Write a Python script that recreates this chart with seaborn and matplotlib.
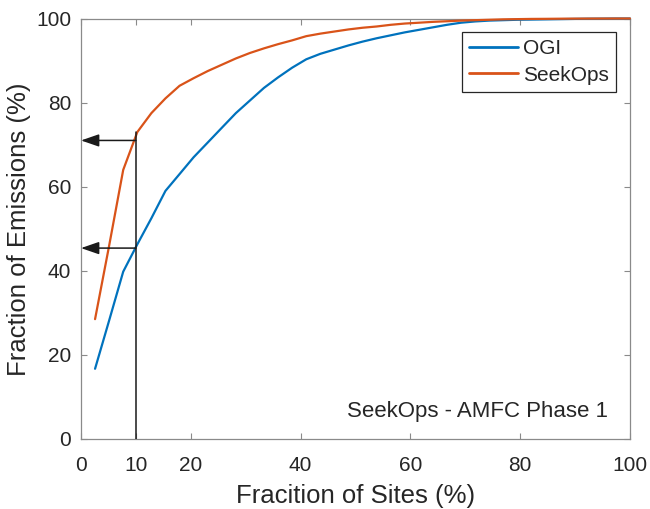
import numpy as np
import pandas as pd
import matplotlib
matplotlib.use("Agg")
import matplotlib.pyplot as plt
import seaborn as sns

# Cumulative share of emissions vs. share of sites (sites ranked by emission)
site_frac = [2.56, 5.13, 7.69, 10.26, 12.82, 15.38, 17.95, 20.51, 23.08, 25.64,
             28.21, 30.77, 33.33, 35.90, 38.46, 41.03, 43.59, 46.15, 48.72, 51.28,
             53.85, 56.41, 58.97, 61.54, 64.10, 66.67, 69.23, 71.79, 74.36, 76.92,
             79.49, 82.05, 84.62, 87.18, 89.74, 92.31, 94.87, 97.44, 100.0]

ogi = [16.7, 28.2, 39.8, 46.3, 52.5, 59.0, 63.0, 67.0, 70.5, 74.0,
       77.5, 80.5, 83.5, 86.0, 88.3, 90.3, 91.6, 92.6, 93.6, 94.5,
       95.3, 96.0, 96.7, 97.3, 97.9, 98.5, 99.0, 99.3, 99.5, 99.6,
       99.7, 99.75, 99.8, 99.85, 99.9, 99.95, 99.97, 100.0, 100.0]

seekops = [28.5, 46.0, 64.0, 73.0, 77.5, 81.0, 84.0, 85.8, 87.5, 89.0,
           90.5, 91.8, 92.9, 93.9, 94.8, 95.8, 96.4, 96.9, 97.4, 97.8,
           98.1, 98.5, 98.8, 99.0, 99.2, 99.35, 99.5, 99.6, 99.7, 99.8,
           99.85, 99.9, 99.92, 99.95, 99.97, 99.98, 99.99, 100.0, 100.0]

series_names = ["OGI", "SeekOps"]
series_colors = ["#0072BD", "#D95319"]

# Guide lines at 10 % of sites
marker_site = 10
marker_top = 73
arrow_levels = [71, 45.4]

x_ticks = [0, 10, 20, 40, 60, 80, 100]
y_ticks = [0, 20, 40, 60, 80, 100]

df = pd.DataFrame({
    "site": site_frac * 2,
    "emis": ogi + seekops,
    "method": ["OGI"] * len(ogi) + ["SeekOps"] * len(seekops),
})

sns.set_style("ticks")
plt.rcParams["font.family"] = ["Liberation Sans", "DejaVu Sans"]

txt = "#262626"
spine = "#8a8a8a"

fig = plt.figure(figsize=(6.5, 5.09), dpi=100)
ax = fig.add_axes([81 / 650, 1 - 439 / 509, (630 - 81) / 650, (439 - 18.5) / 509])

sns.lineplot(data=df, x="site", y="emis", hue="method", hue_order=series_names,
             palette=series_colors, linewidth=1.6, ax=ax, legend=True)
for ln in ax.get_lines():
    ln.set_clip_on(False)
    ln.set_zorder(3)

# vertical marker and arrows pointing to the y axis
ax.plot([marker_site, marker_site], [0, marker_top], color="#1a1a1a", lw=1.1, zorder=3)
for lvl in arrow_levels:
    ax.annotate("", xy=(0, lvl), xytext=(marker_site, lvl),
                arrowprops=dict(arrowstyle="-|>,head_length=1.1,head_width=0.38",
                                color="#1a1a1a", lw=1.1, shrinkA=0, shrinkB=0,
                                mutation_scale=10),
                annotation_clip=False, zorder=4)

ax.set_xlim(0, 100)
ax.set_ylim(0, 100)
ax.set_xticks(x_ticks)
ax.set_yticks(y_ticks)
ax.tick_params(direction="in", length=4, width=0.8, color=spine, labelsize=15,
               labelcolor=txt, top=True, right=True, pad=7)
ax.tick_params(axis="x", pad=12)
for s in ax.spines.values():
    s.set_color(spine)
    s.set_linewidth(0.9)
    s.set_visible(True)
    s.set_zorder(2)

ax.set_xlabel("Fracition of Sites (%)", fontsize=18.5, color=txt, labelpad=6.5)
ax.set_ylabel("Fraction of Emissions (%)", fontsize=18.5, color=txt, labelpad=4)

ax.text(0.96, 0.065, "SeekOps - AMFC Phase 1", transform=ax.transAxes,
        ha="right", va="center", fontsize=16, color=txt)

leg = ax.legend(loc="upper right", fontsize=15, frameon=True, fancybox=False,
                handlelength=2.35, handletextpad=0.25, labelspacing=0.35,
                borderpad=0.35, borderaxespad=0.65, framealpha=1)
leg.get_frame().set_edgecolor(txt)
leg.get_frame().set_linewidth(0.9)
for t in leg.get_texts():
    t.set_color(txt)
for h in leg.get_lines():
    h.set_linewidth(2.0)

fig.savefig("out.png", dpi=100)
